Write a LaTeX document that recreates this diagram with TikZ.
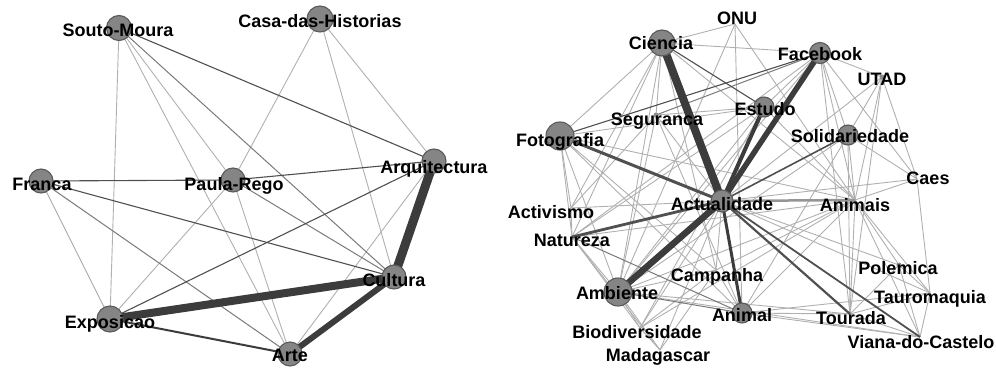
\documentclass[tikz,border=0pt]{standalone}
\usepackage{fontspec}
\setmainfont{Liberation Sans}
\definecolor{vfill}{HTML}{858585}
\definecolor{vborder}{HTML}{5A5A5A}
\definecolor{lgrey}{HTML}{B0B0B0}
\definecolor{mgrey}{HTML}{7A7A7A}
\definecolor{dgrey}{HTML}{505050}
\definecolor{hgrey}{HTML}{3C3C3C}
\begin{document}
\begin{tikzpicture}[x=1pt,y=-1pt,
  lab/.style={font=\bfseries\fontsize{18}{19}\selectfont, anchor=base, inner sep=0pt, text=black},
  vtx/.style={circle, fill=vfill, draw=vborder, line width=1.1pt, inner sep=0pt, minimum size=#1},
  dot/.style={circle, fill=lgrey!80!black, inner sep=0pt, minimum size=5pt},
  eL/.style={draw=lgrey, line width=0.9pt},
  eM/.style={draw=mgrey, line width=1pt},
  eD/.style={draw=dgrey, line width=1.1pt},
  eH/.style={draw=hgrey, line width=#1}]
\useasboundingbox (0,0) rectangle (996,369);
% ---------- left graph coordinates
\coordinate (SM) at (119,28);
\coordinate (CH) at (320,19);
\coordinate (FR) at (41,181);
\coordinate (PR) at (233,180);
\coordinate (AQ) at (434,161);
\coordinate (CU) at (394,277);
\coordinate (EX) at (110,319);
\coordinate (AR) at (290,354);
% ---------- right graph coordinates
\coordinate (ONU) at (735,24);
\coordinate (CI) at (662,43);
\coordinate (FB) at (820,53);
\coordinate (UT) at (882,77);
\coordinate (ES) at (764,107);
\coordinate (SG) at (656,115);
\coordinate (FO) at (560,136);
\coordinate (SO) at (848,135);
\coordinate (CA) at (917,179);
\coordinate (AC) at (722,201);
\coordinate (AN) at (855,200);
\coordinate (AV) at (571,208);
\coordinate (NA) at (572,237);
\coordinate (PO) at (899,265);
\coordinate (CP) at (716,270);
\coordinate (TA) at (930,293);
\coordinate (AM) at (618,292);
\coordinate (AL) at (742,313);
\coordinate (TO) at (850,314);
\coordinate (BI) at (640,328);
\coordinate (VC) at (920,337);
\coordinate (MA) at (660,350);
% ---------- left edges
\foreach \a/\b in {SM/EX,SM/AR,SM/PR,CH/PR,CH/CU,CH/AQ,FR/EX,PR/EX,PR/AR,AR/AQ}
  \draw[eL] (\a) -- (\b);
\foreach \a/\b in {FR/AR,PR/CU,SM/CU}
  \draw[eM] (\a) -- (\b);
\foreach \a/\b in {SM/AQ,FR/PR,PR/AQ,FR/CU,EX/AQ}
  \draw[eD] (\a) -- (\b);
\draw[eH=2] (EX) -- (AR);
\draw[eH=8] (EX) -- (CU);
\draw[eH=6] (AR) -- (CU);
\draw[eH=9] (CU) -- (AQ);
% ---------- right edges
\foreach \a/\b in {ONU/CI,ONU/AM,ONU/AL,ONU/AN,
  CI/FB,CI/FO,CI/SG,CI/NA,CI/AV,CI/AM,CI/AN,CI/CP,
  FB/UT,FB/SO,FB/AN,FB/CA,FB/TO,FB/NA,FB/ES,FB/AM,
  UT/AN,UT/CA,UT/SO,UT/AC,UT/TO,
  ES/SG,ES/AM,ES/NA,ES/AN,ES/BI,
  SG/AM,SG/AL,SG/AC,SG/AV,
  FO/AV,FO/NA,FO/AM,FO/AL,FO/AN,FO/CP,FO/ES,
  SO/AN,SO/CA,SO/AM,SO/TO,SO/AL,
  CA/AN,CA/AC,CA/TA,
  AC/AV,AC/CP,AC/BI,AC/MA,AC/PO,AC/TA,
  AN/NA,AN/AM,AN/AL,AN/CP,AN/PO,AN/TA,AN/VC,AN/TO,AN/BI,
  NA/AV,NA/AM,NA/BI,NA/MA,
  AM/BI,AM/MA,AM/CP,AM/TO,AM/VC,
  AL/TO,AL/VC,AL/CP,AL/TA,
  PO/TO,PO/VC,PO/TA,
  TA/TO,TA/VC,TO/VC,
  BI/MA,CP/MA,CP/BI}
  \draw[eL] (\a) -- (\b);
\foreach \a/\b in {SG/FB,AM/AL,NA/AL}
  \draw[eM] (\a) -- (\b);
\foreach \a/\b in {CI/ES,FO/FB}
  \draw[eD] (\a) -- (\b);
\draw[draw=mgrey!80, line width=2.5pt] (AC) -- (AN);
\draw[draw=dgrey, line width=1.6pt] (AC) -- (SO);
\draw[draw=dgrey, line width=1.8pt] (AC) -- (VC);
\draw[draw=dgrey, line width=2.2pt] (AC) -- (TO);
\draw[eH=3] (AC) -- (AL);
\draw[draw=dgrey, line width=2.8pt] (NA) -- (AC);
\draw[draw=dgrey, line width=3pt] (FO) -- (AC);
\draw[eH=4] (ES) -- (AC);
\draw[eH=5.5] (FB) -- (AC);
\draw[eH=6.5] (AM) -- (AC);
\draw[eH=8] (CI) -- (AC);
% ---------- vertices
\node[vtx=25pt] (c-SM) at (SM) {};
\node[vtx=26pt] (c-CH) at (CH) {};
\node[vtx=24pt] (c-FR) at (FR) {};
\node[vtx=24pt] (c-PR) at (PR) {};
\node[vtx=24pt] (c-AQ) at (AQ) {};
\node[vtx=24pt] (c-CU) at (CU) {};
\node[vtx=26pt] (c-EX) at (EX) {};
\node[vtx=24pt] (c-AR) at (AR) {};
\node[vtx=26pt] (c-CI) at (CI) {};
\node[vtx=21pt] (c-FB) at (FB) {};
\node[vtx=20pt] (c-ES) at (ES) {};
\node[vtx=28pt] (c-FO) at (FO) {};
\node[vtx=20pt] (c-SO) at (SO) {};
\node[vtx=22pt] (c-AC) at (AC) {};
\node[vtx=28pt] (c-AM) at (AM) {};
\node[vtx=20pt] (c-AL) at (AL) {};
\node[dot] (d-UT) at (UT) {};
\node[dot] (d-SG) at (SG) {};
\node[dot] (d-PO) at (PO) {};
% ---------- labels left
\node[lab] (l-SM) at (118,37) {Souto-Moura};
\node[lab] (l-CH) at (320,28) {Casa-das-Historias};
\node[lab] (l-AQ) at (434,173) {Arquitectura};
\node[lab] (l-FR) at (42,190) {Franca};
\node[lab] (l-PR) at (234,190) {Paula-Rego};
\node[lab] (l-CU) at (394,286) {Cultura};
\node[lab] (l-EX) at (110,328) {Exposicao};
\node[lab] (l-AR) at (290,361) {Arte};
% ---------- labels right
\node[lab] (l-ONU) at (737,25) {ONU};
\node[lab] (l-CI) at (661,50) {Ciencia};
\node[lab] (l-FB) at (820,60) {Facebook};
\node[lab] (l-UT) at (882,85) {UTAD};
\node[lab] (l-ES) at (765,115) {Estudo};
\node[lab] (l-SG) at (657,125) {Seguranca};
\node[lab] (l-FO) at (560,146) {Fotografia};
\node[lab] (l-SO) at (850,142) {Solidariedade};
\node[lab] (l-CA) at (928,184) {Caes};
\node[lab] (l-AC) at (722,210) {Actualidade};
\node[lab] (l-AN) at (855,211) {Animais};
\node[lab] (l-AV) at (551,218) {Activismo};
\node[lab] (l-NA) at (572,246) {Natureza};
\node[lab] (l-PO) at (898,274) {Polemica};
\node[lab] (l-CP) at (717,281) {Campanha};
\node[lab] (l-TA) at (930,303) {Tauromaquia};
\node[lab] (l-AM) at (617,299) {Ambiente};
\node[lab] (l-AL) at (742,321) {Animal};
\node[lab] (l-TO) at (851,324) {Tourada};
\node[lab] (l-BI) at (637,338) {Biodiversidade};
\node[lab] (l-VC) at (921,348) {Viana-do-Castelo};
\node[lab] (l-MA) at (658,361) {Madagascar};
\end{tikzpicture}
\end{document}
